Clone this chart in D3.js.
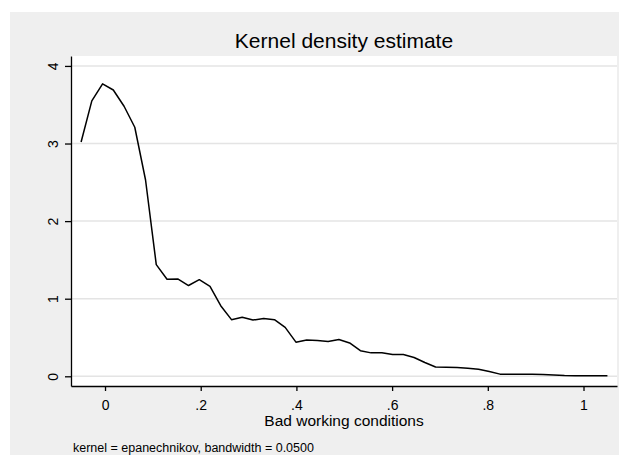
<!DOCTYPE html>
<html>
<head>
<meta charset="utf-8">
<script src="https://cdn.jsdelivr.net/npm/d3@7"></script>
<style>
  body { margin: 0; background: #fff; }
  svg { display: block; font-family: "Liberation Sans", Arial, sans-serif; }
</style>
</head>
<body>
<div id="plot"></div>
<script>
// kdensity evaluation points and estimated density
var xs = [-0.0500, -0.0276, -0.0051, 0.0173, 0.0398, 0.0622, 0.0847, 0.1071, 0.1296, 0.1520,
          0.1745, 0.1970, 0.2194, 0.2418, 0.2643, 0.2867, 0.3092, 0.3316, 0.3541, 0.3765,
          0.3990, 0.4214, 0.4439, 0.4663, 0.4888, 0.5112, 0.5337, 0.5561, 0.5786, 0.6010,
          0.6235, 0.6459, 0.6684, 0.6908, 0.7133, 0.7357, 0.7582, 0.7806, 0.8031, 0.8255,
          0.8480, 0.8704, 0.8929, 0.9153, 0.9378, 0.9602, 0.9827, 1.0051, 1.0276, 1.0500]
var dens = [3.02, 3.55, 3.77, 3.69, 3.48, 3.21, 2.53, 1.44, 1.25, 1.255,
            1.17, 1.245, 1.16, 0.91, 0.73, 0.76, 0.725, 0.745, 0.73, 0.63,
            0.44, 0.468, 0.46, 0.448, 0.474, 0.43, 0.33, 0.302, 0.304, 0.28,
            0.28, 0.243, 0.178, 0.12, 0.118, 0.113, 0.105, 0.09, 0.062, 0.028,
            0.028, 0.027, 0.025, 0.022, 0.018, 0.009, 0.007, 0.007, 0.007, 0.007]
var xTicks = [0, 0.2, 0.4, 0.6, 0.8, 1]
var xTickLabels = ["0", ".2", ".4", ".6", ".8", "1"]
var yTicks = [0, 1, 2, 3, 4]
var yTickLabels = ["0", "1", "2", "3", "4"]

var W = 619, H = 457
var margin = {top: 56, right: 2, bottom: 71, left: 71}
var width = W - margin.left - margin.right
var height = H - margin.top - margin.bottom

var svg = d3.select("#plot").append("svg")
    .attr("width", W)
    .attr("height", H)

// outer gray graph region
svg.append("rect")
    .attr("x", 10).attr("y", 12)
    .attr("width", W - 10).attr("height", 443)
    .attr("fill", "#efefef")

var g = svg.append("g").attr("transform", "translate(" + margin.left + "," + margin.top + ")")

g.append("rect")
    .attr("width", width).attr("height", height)
    .attr("fill", "#fff")

var x = d3.scaleLinear().domain([-0.0711, 1.0700]).range([0, width])
var y = d3.scaleLinear().domain([-0.125, 4.128]).range([height, 0])

// grid
g.selectAll(".grid")
    .data(yTicks)
    .enter().append("line")
    .attr("x1", 0).attr("x2", width)
    .attr("y1", function (d) { return y(d) })
    .attr("y2", function (d) { return y(d) })
    .attr("stroke", "#e4e4e4")
    .attr("stroke-width", 1.5)

// axes
var xAxis = g.append("g")
    .attr("transform", "translate(0," + height + ")")
    .call(d3.axisBottom(x).tickValues(xTicks)
        .tickFormat(function (d, i) { return xTickLabels[i] })
        .tickSize(5).tickPadding(9).tickSizeOuter(0))
xAxis.select(".domain").attr("stroke-width", 1.3)
xAxis.selectAll(".tick line").attr("stroke-width", 1.3)
xAxis.selectAll("text").style("font-size", "14px").attr("fill", "#000")

var yAxis = g.append("g")
    .call(d3.axisLeft(y).tickValues(yTicks)
        .tickFormat(function (d, i) { return yTickLabels[i] })
        .tickSize(6).tickSizeOuter(0))
yAxis.select(".domain").attr("stroke-width", 1.3)
yAxis.selectAll(".tick line").attr("stroke-width", 1.3)
yAxis.selectAll("text")
    .style("font-size", "14px").attr("fill", "#000")
    .attr("x", null).attr("dy", null)
    .attr("text-anchor", "middle")
    .attr("transform", "translate(-13,0) rotate(-90)")

// density line
var line = d3.line()
    .x(function (d, i) { return x(xs[i]) })
    .y(function (d) { return y(d) })

g.append("path")
    .datum(dens)
    .attr("fill", "none")
    .attr("stroke", "#000")
    .attr("stroke-width", 1.5)
    .attr("stroke-linejoin", "round")
    .attr("d", line)

// titles
svg.append("text")
    .attr("x", margin.left + width / 2)
    .attr("y", 48)
    .attr("text-anchor", "middle")
    .style("font-size", "21px")
    .text("Kernel density estimate")

svg.append("text")
    .attr("x", margin.left + width / 2)
    .attr("y", 426)
    .attr("text-anchor", "middle")
    .style("font-size", "15.5px")
    .text("Bad working conditions")

svg.append("text")
    .attr("x", 73)
    .attr("y", 452)
    .style("font-size", "12.5px")
    .text("kernel = epanechnikov, bandwidth = 0.0500")
</script>
</body>
</html>
